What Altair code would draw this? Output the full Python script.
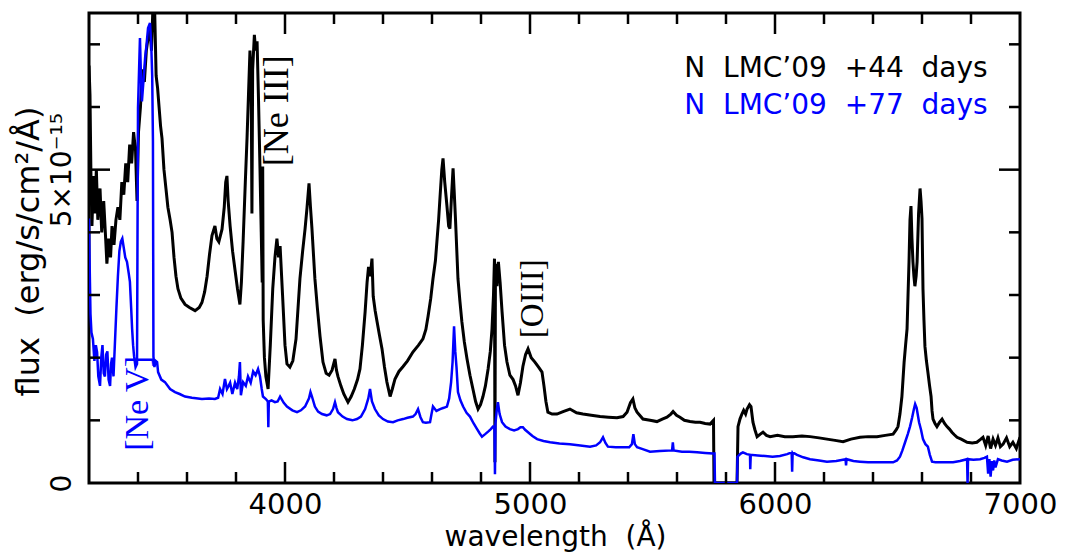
import altair as alt
import pandas as pd

# ---------------- data ----------------
black_wl = [3200, 3204, 3208, 3212, 3218, 3224, 3230, 3236, 3245, 3252, 3260, 3268, 3273, 3280, 3288, 3294,
            3302, 3310, 3318, 3326, 3334, 3342, 3350, 3358, 3366, 3374, 3382, 3390, 3396, 3402, 3410, 3418,
            3426, 3434, 3441, 3449, 3455, 3461, 3468, 3474, 3480, 3486, 3492, 3498, 3506, 3514, 3522, 3531,
            3539, 3547, 3555, 3563, 3575, 3592, 3610, 3633, 3650, 3661, 3672, 3682, 3692, 3702, 3714, 3722,
            3730, 3743, 3752, 3758, 3763, 3768, 3776, 3786, 3796, 3806, 3816, 3822, 3829, 3838, 3845, 3851,
            3857, 3862, 3865, 3868, 3875, 3880, 3886, 3892, 3898, 3903, 3907, 3909, 3911, 3916, 3922, 3931,
            3940, 3950, 3959, 3967, 3974, 3980, 3990, 4000, 4008, 4020, 4032, 4045, 4061, 4072, 4082, 4090,
            4098, 4104, 4110, 4122, 4132, 4143, 4155, 4168, 4180, 4192, 4204, 4210, 4216, 4228, 4240, 4257,
            4270, 4283, 4296, 4306, 4316, 4327, 4335, 4341, 4348, 4355, 4360, 4368, 4376, 4386, 4396, 4406,
            4416, 4429, 4438, 4449, 4465, 4482, 4500, 4522, 4545, 4563, 4575, 4584, 4595, 4604, 4614, 4620,
            4627, 4633, 4640, 4645, 4652, 4661, 4668, 4673, 4680, 4686, 4690, 4696, 4706, 4714, 4722, 4732,
            4743, 4755, 4767, 4778, 4788, 4798, 4808, 4818, 4829, 4838, 4845, 4851, 4855, 4857, 4859, 4865,
            4871, 4878, 4886, 4896, 4906, 4918, 4931, 4941, 4951, 4961, 4971, 4982, 4992, 5005, 5020, 5035,
            5049, 5057, 5065, 5073, 5090, 5110, 5135, 5163, 5190, 5216, 5250, 5286, 5320, 5355, 5380, 5396,
            5410, 5420, 5428, 5437, 5461, 5490, 5518, 5540, 5559, 5575, 5584, 5598, 5612, 5630, 5653, 5675,
            5694, 5715, 5735, 5749, 5751, 5845, 5849, 5857, 5865, 5872, 5880, 5886, 5896, 5902, 5910, 5918,
            5927, 5940, 5951, 5965, 5980, 6010, 6040, 6073, 6110, 6143, 6180, 6212, 6245, 6278, 6310, 6347,
            6380, 6416, 6450, 6482, 6495, 6502, 6510, 6518, 6527, 6533, 6539, 6543, 6547, 6551, 6555, 6559,
            6563, 6567, 6571, 6576, 6580, 6586, 6592, 6596, 6600, 6604, 6608, 6612, 6618, 6624, 6631, 6637,
            6641, 6645, 6653, 6661, 6672, 6682, 6692, 6702, 6712, 6722, 6732, 6743, 6760, 6784, 6805, 6824,
            6840, 6849, 6860, 6870, 6880, 6890, 6900, 6910, 6920, 6931, 6945, 6958, 6971, 6985, 7000]
black_flux = [6.66, 6.2, 4.9, 4.1, 4.9, 4.3, 5.0, 4.2, 4.7, 4.0, 4.5, 3.9, 3.5, 3.9, 3.6, 4.1,
              3.8, 4.2, 4.4, 4.2, 4.8, 4.6, 5.1, 4.8, 5.4, 5.1, 5.6, 5.3, 4.5, 5.6, 6.0, 6.6,
              6.4, 6.9, 7.1, 7.26, 6.9, 7.6, 7.55, 6.5, 6.3, 6.0, 5.7, 5.5, 5.0, 4.7, 4.4, 4.2,
              4.0, 3.6, 3.3, 3.1, 2.95, 2.85, 2.8, 2.75, 2.8, 2.88, 3.05, 3.3, 3.65, 3.95, 4.1, 3.9,
              3.85, 4.05, 4.4, 4.8, 4.9, 4.5, 4.1, 3.7, 3.4, 3.1, 2.85, 3.2, 3.85, 4.8, 5.5, 6.2,
              6.9, 6.4, 4.3, 6.6, 7.15, 6.9, 7.05, 6.1, 5.0, 4.0, 3.2, 5.05, 2.6, 2.0, 1.7, 1.5,
              2.2, 3.1, 3.6, 3.9, 3.6, 3.78, 3.0, 2.2, 1.9, 1.85, 1.95, 2.3, 3.26, 3.7, 4.06, 4.4,
              4.78, 4.4, 4.06, 3.26, 2.8, 2.34, 1.93, 1.75, 1.72, 1.8, 1.98, 1.8, 1.70, 1.55, 1.42, 1.29,
              1.38, 1.5, 1.65, 1.82, 2.2, 2.73, 3.2, 3.45, 3.3, 3.58, 2.98, 2.75, 2.57, 2.35, 2.14, 1.85,
              1.61, 1.38, 1.5, 1.66, 1.78, 1.86, 1.95, 2.09, 2.2, 2.30, 2.45, 2.66, 2.95, 3.26, 3.55, 3.85,
              4.2, 4.58, 5.0, 5.18, 4.8, 4.42, 4.1, 4.06, 4.6, 5.02, 4.7, 4.2, 3.26, 2.9, 2.57, 2.25,
              1.98, 1.72, 1.50, 1.3, 1.18, 1.25, 1.38, 1.55, 1.82, 2.1, 2.46, 3.0, 3.58, 0.33, 3.5, 3.14,
              3.53, 3.2, 2.73, 2.2, 1.93, 1.72, 1.65, 1.55, 1.40, 1.6, 1.86, 2.05, 2.14, 2.0, 1.93, 1.85,
              1.77, 1.55, 1.3, 1.13, 1.1, 1.10, 1.14, 1.18, 1.12, 1.10, 1.08, 1.06, 1.05, 1.04, 1.06, 1.13,
              1.28, 1.34, 1.2, 1.13, 1.02, 1.0, 0.98, 1.02, 1.05, 1.1, 1.14, 1.08, 1.05, 1.0, 0.98, 0.97,
              0.97, 0.95, 0.94, 1.0, 0.0, 0.0, 0.90, 1.02, 1.1, 1.16, 1.1, 1.18, 1.25, 1.22, 0.97, 0.85,
              0.74, 0.78, 0.81, 0.76, 0.74, 0.76, 0.74, 0.74, 0.75, 0.74, 0.72, 0.70, 0.68, 0.66, 0.7, 0.73,
              0.74, 0.74, 0.76, 0.78, 0.85, 0.90, 1.1, 1.38, 1.93, 2.2, 2.46, 3.0, 3.53, 4.2, 4.42, 3.9,
              3.53, 3.3, 3.14, 3.3, 3.53, 4.3, 4.70, 4.5, 4.22, 3.10, 2.6, 2.18, 1.95, 1.77, 1.55, 1.38,
              1.15, 1.02, 0.95, 0.90, 0.97, 1.02, 0.95, 0.90, 0.86, 0.81, 0.77, 0.73, 0.7, 0.65, 0.64, 0.65,
              0.7, 0.73, 0.6, 0.75, 0.55, 0.70, 0.6, 0.72, 0.58, 0.62, 0.72, 0.58, 0.65, 0.55, 0.73]

blue_wl = [3200, 3203, 3206, 3210, 3216, 3222, 3228, 3233, 3238, 3245, 3250, 3255, 3260, 3265, 3270, 3275,
           3280, 3286, 3290, 3294, 3300, 3306, 3312, 3318, 3324, 3330, 3336, 3342, 3348, 3355, 3362, 3367,
           3372, 3376, 3380, 3384, 3390, 3396, 3400, 3408, 3412, 3416, 3422, 3429, 3435, 3441, 3449, 3454,
           3458, 3461, 3463, 3467, 3472, 3478, 3482, 3495, 3510, 3531, 3551, 3570, 3592, 3620, 3661, 3690,
           3714, 3727, 3735, 3745, 3755, 3763, 3770, 3776, 3785, 3796, 3805, 3812, 3816, 3820, 3829, 3840,
           3849, 3860, 3870, 3880, 3890, 3898, 3905, 3910, 3922, 3930, 3932, 3934, 3945, 3959, 3970, 3980,
           3995, 4008, 4030, 4049, 4065, 4082, 4098, 4104, 4110, 4122, 4135, 4151, 4170, 4184, 4196, 4204,
           4210, 4216, 4235, 4253, 4275, 4294, 4310, 4327, 4340, 4347, 4355, 4367, 4383, 4400, 4420, 4441,
           4460, 4482, 4500, 4522, 4533, 4543, 4553, 4563, 4575, 4592, 4598, 4604, 4618, 4633, 4648, 4661,
           4670, 4678, 4684, 4690, 4695, 4700, 4706, 4716, 4727, 4741, 4755, 4770, 4784, 4795, 4804, 4817,
           4829, 4840, 4849, 4855, 4857, 4859, 4864, 4869, 4876, 4886, 4900, 4918, 4935, 4951, 4961, 4971,
           4980, 4992, 5010, 5029, 5055, 5082, 5120, 5163, 5205, 5245, 5270, 5286, 5298, 5308, 5318, 5350,
           5380, 5405, 5416, 5422, 5428, 5437, 5460, 5490, 5530, 5580, 5583, 5586, 5620, 5650, 5682, 5715,
           5747, 5753, 5755, 5845, 5847, 5860, 5869, 5885, 5898, 5899, 5901, 5930, 5960, 5990, 6020, 6050,
           6068, 6070, 6072, 6090, 6115, 6143, 6180, 6212, 6250, 6288, 6290, 6292, 6320, 6347, 6380, 6416,
           6450, 6482, 6498, 6510, 6520, 6531, 6542, 6551, 6560, 6567, 6572, 6578, 6588, 6596, 6604, 6614,
           6624, 6632, 6641, 6655, 6673, 6700, 6727, 6755, 6784, 6786, 6788, 6810, 6837, 6855, 6865, 6870,
           6875, 6880, 6885, 6890, 6895, 6900, 6910, 6925, 6947, 6970, 7000]
blue_flux = [4.22, 3.4, 2.7, 2.4, 2.30, 1.95, 2.2, 2.09, 1.7, 1.55, 2.0, 2.2, 1.75, 1.7, 2.05, 2.1,
             1.65, 1.55, 1.9, 2.0, 1.7, 2.25, 2.8, 3.30, 3.7, 3.85, 3.9, 3.75, 3.6, 3.53, 3.35, 3.21,
             2.8, 2.46, 2.2, 2.02, 1.85, 1.9, 5.98, 7.10, 6.5, 6.09, 6.4, 6.78, 7.0, 7.26, 7.34, 7.0,
             6.5, 5.45, 2.02, 1.85, 1.95, 1.93, 1.77, 1.65, 1.61, 1.50, 1.45, 1.42, 1.38, 1.36, 1.34, 1.35,
             1.34, 1.36, 1.5, 1.42, 1.66, 1.50, 1.55, 1.6, 1.42, 1.60, 1.50, 1.7, 1.93, 1.40, 1.61, 1.55,
             1.70, 1.6, 1.78, 1.72, 1.82, 1.7, 1.5, 1.38, 1.34, 1.30, 0.89, 1.30, 1.32, 1.29, 1.3, 1.38,
             1.28, 1.22, 1.16, 1.13, 1.16, 1.22, 1.35, 1.45, 1.38, 1.22, 1.14, 1.10, 1.08, 1.10, 1.18, 1.29,
             1.2, 1.13, 1.06, 1.02, 1.0, 1.02, 1.06, 1.18, 1.35, 1.50, 1.3, 1.18, 1.08, 1.02, 0.98, 0.97,
             1.0, 1.02, 1.04, 1.06, 1.1, 1.18, 1.05, 0.97, 0.96, 0.97, 1.1, 1.22, 1.15, 1.18, 1.2, 1.22,
             1.35, 1.61, 1.93, 2.50, 2.1, 1.85, 1.45, 1.32, 1.22, 1.12, 1.06, 0.95, 0.86, 0.79, 0.74, 0.78,
             0.82, 0.86, 0.90, 0.90, 0.14, 0.95, 1.15, 1.29, 1.1, 0.97, 0.9, 0.86, 0.84, 0.86, 0.89, 0.89,
             0.85, 0.81, 0.75, 0.70, 0.67, 0.65, 0.63, 0.62, 0.6, 0.58, 0.6, 0.65, 0.73, 0.64, 0.58, 0.57,
             0.57, 0.57, 0.62, 0.78, 0.62, 0.57, 0.54, 0.50, 0.51, 0.52, 0.65, 0.52, 0.5, 0.5, 0.49, 0.48,
             0.47, 0.47, 0.0, 0.0, 0.42, 0.47, 0.49, 0.46, 0.45, 0.22, 0.45, 0.44, 0.43, 0.42, 0.43, 0.46,
             0.49, 0.18, 0.49, 0.45, 0.41, 0.38, 0.36, 0.34, 0.35, 0.38, 0.28, 0.38, 0.35, 0.34, 0.33, 0.33,
             0.33, 0.33, 0.36, 0.42, 0.52, 0.65, 0.78, 0.90, 1.05, 1.18, 1.26, 1.2, 0.97, 0.85, 0.70, 0.62,
             0.58, 0.45, 0.34, 0.33, 0.33, 0.33, 0.33, 0.35, 0.38, 0.0, 0.38, 0.37, 0.38, 0.4, 0.42, 0.15,
             0.38, 0.1, 0.35, 0.2, 0.36, 0.25, 0.38, 0.36, 0.34, 0.37, 0.38]

x_label_values = [4000, 5000, 6000, 7000]
x_major_ticks = [4000, 5000, 6000]
x_minor_ticks = [3400, 3600, 3800, 4200, 4400, 4600, 4800, 5200, 5400, 5600, 5800,
                 6200, 6400, 6600, 6800]
y_label_values = [0, 5]
y_major_ticks = [5]
y_minor_ticks = [1, 2, 3, 4, 6, 7]

SP = " \u00a0"
legend_text = ["N" + SP + "LMC\u201909" + SP + "+44" + SP + "days",
               "N" + SP + "LMC\u201909" + SP + "+77" + SP + "days"]
legend_color = ["#000000", "#0000ff"]
legend_wl = [6868, 6868]
legend_flux = [6.61, 6.02]

ann_text = ["[Ne III]", "[OIII]", "[Ne V]"]
ann_wl = [3968, 5012, 3400]
ann_flux = [5.94, 2.94, 1.27]
ann_color = ["#000000", "#000000", "#0000ff"]
ann_size = [36, 33, 34]

# ---------------- chart ----------------
W, H = 931, 470
xs = alt.Scale(domain=[3200, 7000], nice=False, zero=False)
ys = alt.Scale(domain=[0, 7.5], nice=False, zero=False)

black = pd.DataFrame({"wl": black_wl, "flux": black_flux, "i": range(len(black_wl))})
blue = pd.DataFrame({"wl": blue_wl, "flux": blue_flux, "i": range(len(blue_wl))})

XT = "wavelength \u00a0(\u00c5)"
YT = "flux \u00a0(erg/s/cm\u00b2/\u00c5)"

x_axis = alt.Axis(values=x_label_values, format="d", ticks=False, domain=False, grid=False,
                  labelFont="DejaVu Sans", labelFontSize=29, labelColor="black", labelPadding=7,
                  labelFlush=False, labelOverlap=False,
                  title=XT, titleFont="DejaVu Sans", titleFontSize=28,
                  titleFontWeight="normal", titleColor="black", titleX=466, titleY=54,
                  titleBaseline="middle", titleAlign="center")
y_axis = alt.Axis(values=y_label_values, ticks=False, domain=False, grid=False,
                  labelExpr="datum.value == 5 ? '5\u00d710\u207b\u00b9\u2075' : '0'",
                  labelAngle=270, labelAlign="center", labelBaseline="bottom", labelPadding=13,
                  labelFont="DejaVu Sans", labelFontSize=28, labelColor="black", labelOverlap=False,
                  labelFlush=False,
                  title=YT, titleFont="DejaVu Sans", titleFontSize=32,
                  titleFontWeight="normal", titleColor="black", titleAngle=270, titleX=-61, titleY=238,
                  titleAlign="center", titleBaseline="middle")

X = lambda f: alt.X(f, scale=xs, axis=x_axis, title=XT)
Y = lambda f: alt.Y(f, scale=ys, axis=y_axis, title=YT)

line_black = alt.Chart(black).mark_line(color="#000000", strokeWidth=3, clip=True).encode(
    x=X("wl:Q"), y=Y("flux:Q"), order="i:Q")
line_blue = alt.Chart(blue).mark_line(color="#0000ff", strokeWidth=2.5, clip=True).encode(
    x=X("wl:Q"), y=Y("flux:Q"), order="i:Q")

tick_style = dict(color="black", strokeWidth=2.5)
xmaj = pd.DataFrame({"wl": x_major_ticks})
xmin = pd.DataFrame({"wl": x_minor_ticks})
ymaj = pd.DataFrame({"flux": y_major_ticks})
ymin = pd.DataFrame({"flux": y_minor_ticks})

def xticks(df, length):
    bottom = alt.Chart(df).mark_rule(**tick_style).encode(
        x=X("wl:Q"), y=alt.value(H), y2=alt.value(H - length))
    top = alt.Chart(df).mark_rule(**tick_style).encode(
        x=X("wl:Q"), y=alt.value(0), y2=alt.value(length))
    return [bottom, top]

def yticks(df, length):
    left = alt.Chart(df).mark_rule(**tick_style).encode(
        y=Y("flux:Q"), x=alt.value(0), x2=alt.value(length))
    right = alt.Chart(df).mark_rule(**tick_style).encode(
        y=Y("flux:Q"), x=alt.value(W), x2=alt.value(W - length))
    return [left, right]

legend_df = pd.DataFrame({"t": legend_text, "wl": legend_wl, "flux": legend_flux, "c": legend_color})
legend = alt.Chart(legend_df).mark_text(align="right", baseline="middle", font="DejaVu Sans",
                                        fontSize=28).encode(
    x=X("wl:Q"), y=Y("flux:Q"), text="t:N", color=alt.Color("c:N", scale=None))

ann_df = pd.DataFrame({"t": ann_text, "wl": ann_wl, "flux": ann_flux, "c": ann_color, "s": ann_size})
ann = alt.Chart(ann_df).mark_text(angle=270, align="center", baseline="middle",
                                  font="Liberation Serif").encode(
    x=X("wl:Q"), y=Y("flux:Q"), text="t:N", color=alt.Color("c:N", scale=None),
    size=alt.Size("s:Q", scale=None))

layers = [line_black, line_blue] + xticks(xmaj, 21) + xticks(xmin, 11) + yticks(ymaj, 21) + \
         yticks(ymin, 11) + [ann, legend]

chart = alt.layer(*layers).properties(
    width=W, height=H,
    padding={"left": 89, "top": 13, "right": 45, "bottom": 70},
    autosize=alt.AutoSizeParams(type="none"),
    background="white",
).configure_view(stroke="black", strokeWidth=3)

chart.save("out.html", embed_options={"renderer": "svg", "actions": False})
